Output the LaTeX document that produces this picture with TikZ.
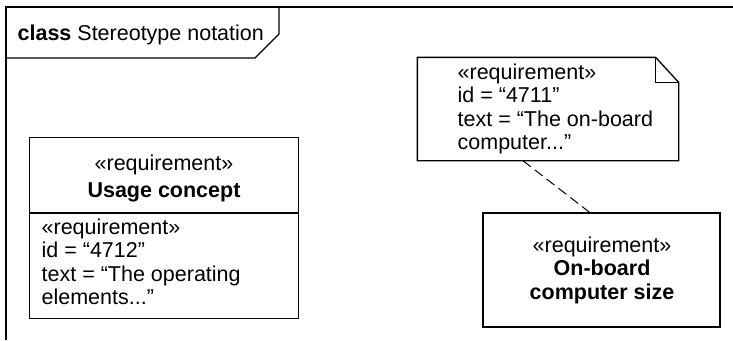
\documentclass[tikz,border=0pt]{standalone}
\usepackage{fontspec}
\setmainfont{Liberation Sans}
\usetikzlibrary{calc}
\tikzset{
  txt/.style={font=\fontsize{21.5}{23.5}\selectfont, inner sep=0pt},
  box/.style={draw, line width=1.3pt, inner sep=0pt},
  conn/.style={draw, dashed, dash pattern=on 10pt off 5pt, line width=1pt},
}
\begin{document}
\begin{tikzpicture}[x=1pt,y=-1pt,line width=1.3pt]
\useasboundingbox (0,0) rectangle (733,340);
% frame
\coordinate (ftl) at (6,7);
\draw (6,340) -- (ftl) -- (733,7);
\draw (6,58) -- (255,58) -- (279,34) -- (279,7);
\node[txt, anchor=base west] (title) at (17,40) {\textbf{class} Stereotype notation};
% left block
\node[box, minimum width=269pt, minimum height=181pt, anchor=north west] (uc) at (29,137) {};
\draw ($(uc.north west)+(0,76)$) -- ($(uc.north east)+(0,76)$);
\node[txt, align=center, anchor=north] (uct) at (164,154) {«requirement»\\[4pt]\textbf{Usage concept}};
\node[txt, align=left, anchor=north west] (ucct) at (41,218) {«requirement»\\id = “4712”\\text = “The operating\\elements...”};
% note
\node[minimum width=260pt, minimum height=102pt, inner sep=0pt] (note) at (548,109) {};
\draw ($(note.north east)+(-23,0)$) -- (note.north west) -- (note.south west) -- (note.south east) -- ($(note.north east)+(0,25)$) -- cycle;
\draw ($(note.north east)+(-23,0)$) -- ($(note.north east)+(-23,25)$) -- ($(note.north east)+(0,25)$);
\node[txt, align=left, anchor=north west] (notet) at (457,63) {«requirement»\\id = “4711”\\text = “The on-board\\computer...”};
% right block
\node[box, minimum width=237pt, minimum height=114pt] (cs) at (601.5,270) {};
\node[txt, align=center, anchor=north] (cst) at (602,236) {«requirement»\\\textbf{On-board}\\\textbf{computer size}};
% connector
\draw[conn] ($(note.south west)!0.404!(note.south east)$) -- ($(cs.north west)!0.45!(cs.north east)$);
\end{tikzpicture}
\end{document}
